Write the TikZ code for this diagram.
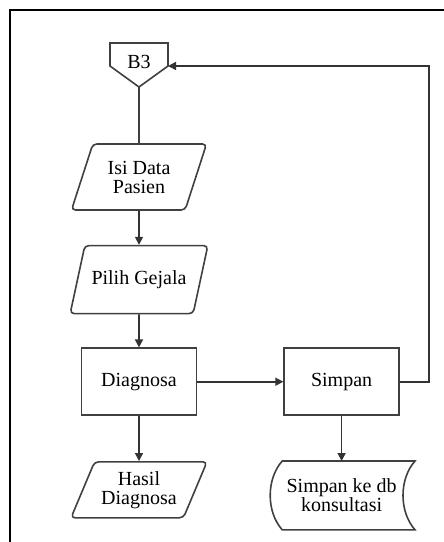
\documentclass[tikz,border=0pt]{standalone}
\usepackage{fontspec}
\setmainfont{Liberation Serif}
\usetikzlibrary{shapes.geometric, arrows.meta, positioning, calc}

\begin{document}
\begin{tikzpicture}[
        x=0.5pt, y=-0.5pt,
        font=\fontsize{10}{9.5}\selectfont,
        proc/.style={rectangle, draw=black!75, line width=0.8pt,
                    minimum width=57.5pt, minimum height=33.5pt, align=center},
        io/.style={trapezium, trapezium left angle=65, trapezium right angle=115,
                   trapezium stretches body, draw=black!75, line width=0.8pt,
                   rounded corners=2pt, minimum width=67.5pt, minimum height=33pt,
                   align=center},
        line/.style={draw=black!75, line width=0.8pt},
        arrow/.style={-{Triangle[length=4pt, width=4pt]}, line width=0.8pt, black!80}
    ]
        \useasboundingbox (0,0) rectangle (444,542);
        \draw[line width=1pt] (10,542) -- (10,10) -- (444,10);

        % off-page connector
        \node (b3) at (139,62) {B3};
        \draw[line] ($(b3)+(-29,-19)$) -- ($(b3)+(29,-19)$) -- ($(b3)+(29,4)$) coordinate (b3in)
            -- ($(b3)+(0,25)$) coordinate (b3tip) -- ($(b3)+(-29,4)$) -- cycle;

        \node[io] (isi) at (139,177) {Isi Data\\Pasien};
        \node[io, minimum height=34pt, below=17pt of isi] (pilih) {Pilih Gejala};
        \node[proc, below=16.5pt of pilih] (diag) {Diagnosa};
        \node[io, minimum height=28pt, minimum width=63.5pt, below=22.5pt of diag] (hasil) {Hasil\\Diagnosa};
        \node[proc, right=43pt of diag] (simpan) {Simpan};
        \node[minimum width=63pt, minimum height=34pt, inner sep=0pt, align=center,
              below=22.5pt of simpan] (db) {Simpan ke db\\konsultasi};

        % stored data
        \draw[line] ($(db.north west)+(4,0)$) .. controls ($(db.north west)+(-12,18)$) and ($(db.south west)+(-12,-18)$) .. ($(db.south west)+(4,0)$)
            -- ($(db.south east)+(10,0)$) .. controls ($(db.south east)+(-6,-18)$) and ($(db.north east)+(-6,18)$) .. ($(db.north east)+(10,0)$) -- cycle;

        \draw[line] (b3tip) -- (isi.north);
        \draw[arrow] (isi) -- (pilih);
        \draw[arrow] (pilih) -- (diag);
        \draw[arrow] (diag) -- (hasil);
        \draw[arrow] (diag) -- (simpan);
        \draw[arrow] (simpan) -- (db);
        \draw[arrow] (simpan.east) -- ++(29,0) |- (b3in);
    \end{tikzpicture}
\end{document}
